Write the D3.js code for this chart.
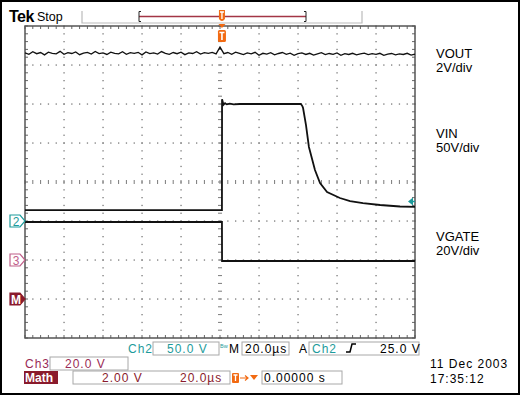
<!DOCTYPE html>
<html><head><meta charset="utf-8">
<script src="https://cdn.jsdelivr.net/npm/d3@7"></script>
<style>
body{margin:0;background:#fff}
svg{display:block}
text{font-family:"Liberation Sans",Arial,sans-serif}
</style>
</head><body>
<svg id="c" width="520" height="395"></svg>
<script>
// ---------- data ----------
const channelLabels = ["VOUT", "VIN", "VGATE"];
const channelScales = ["2V/div", "50V/div", "20V/div"];
const voltsPerDiv = [2, 50, 20];          // Ch1 (VOUT), Ch2 (VIN), Ch3 (VGATE)
const groundPos = [-3, -1, -2];           // channel ground position, divisions from center

const voutTime = d3.range(-101, 100, 2);  // µs
const voutValues = [
 12.62,12.55,12.68,12.58,12.64,12.52,12.66,12.6,12.57,12.7,
 12.55,12.63,12.59,12.67,12.53,12.61,12.65,12.56,12.69,12.58,
 12.62,12.54,12.66,12.6,12.57,12.68,12.55,12.63,12.6,12.65,
 12.52,12.67,12.58,12.62,12.56,12.69,12.6,12.55,12.64,12.58,
 12.66,12.53,12.62,12.59,12.68,12.56,12.63,12.6,12.65,12.57,
 12.92,
 12.58,12.64,12.55,12.66,12.6,12.53,12.62,12.57,12.65,12.5,
 12.6,12.56,12.63,12.52,12.59,12.64,12.55,12.61,12.5,12.58,
 12.62,12.54,12.6,12.51,12.57,12.63,12.53,12.59,12.55,12.62,
 12.5,12.58,12.54,12.6,12.52,12.57,12.61,12.53,12.58,12.55,
 12.6,12.5,12.56,12.59,12.52,12.57,12.54,12.6,12.51,12.56
];

const vinTime   = [-101, 0, 0.05, 0.8, 1.6, 2.5, 4, 6, 9, 40.5, 41.3, 41.6, 43.1, 44.6, 47.7, 50.3, 53.9, 60.5, 65.7, 72.3, 81.1, 91.3, 99];
const vinValues = [14, 14, 156, 149, 151, 149.5, 150.5, 149.6, 150, 150, 147, 144.9, 123, 94.9, 65.4, 48.7, 37.2, 29.5, 25.6, 23, 20.5, 18.6, 18];

const vgateTime   = [-101, 0, 0.05, 99];
const vgateValues = [19.5, 19.5, -0.5, -0.5];

const triggerLevel = 25;   // V on Ch2
const timeDomain = [-101, 99]; // µs, 20 µs/div

// ---------- scales ----------
const svg = d3.select("#c");
const L = 25, R = 415, T = 26, B = 338;
const x = d3.scaleLinear().domain(timeDomain).range([L, R]);
const gx = d3.scaleLinear().domain([0, 10]).range([L, R]);
const dv = d3.scaleLinear().domain([-4, 4]).range([B, T]);
const yCh = (ch) => (v) => dv(v / voltsPerDiv[ch] + groundPos[ch]);

const TEAL = "#1d9b9b", MAROON = "#9a2a55", MATH = "#8a1a2c", ORANGE = "#f26a12";

// frame
svg.append("rect").attr("x", 1).attr("y", 1).attr("width", 518).attr("height", 393)
  .attr("fill", "#fff").attr("stroke", "#000").attr("stroke-width", 2);

// ---------- graticule ----------
const g = svg.append("g");
const minorX = d3.range(0, 50.01, 1).map(i => i / 5);
const minorY = d3.range(-20, 20.01, 1).map(i => i / 5);
const DOT = "#7a7a7a";
for (let i = 1; i < 10; i++) {
  if (i === 5) continue;
  g.selectAll(null).data(minorY).join("rect")
    .attr("x", gx(i) - 0.6).attr("y", d => dv(d) - 0.6).attr("width", 1.3).attr("height", 1.3).attr("fill", DOT);
}
for (let k = -3; k <= 3; k++) {
  if (k === 0) continue;
  g.selectAll(null).data(minorX).join("rect")
    .attr("x", d => gx(d) - 0.6).attr("y", dv(k) - 0.6).attr("width", 1.3).attr("height", 1.3).attr("fill", DOT);
}
// center cross with ticks
g.selectAll(null).data(minorX).join("line")
  .attr("x1", d => gx(d)).attr("x2", d => gx(d)).attr("y1", dv(0) - 2).attr("y2", dv(0) + 2)
  .attr("stroke", DOT).attr("stroke-width", 1);
g.selectAll(null).data(minorY).join("line")
  .attr("y1", d => dv(d)).attr("y2", d => dv(d)).attr("x1", gx(5) - 2).attr("x2", gx(5) + 2)
  .attr("stroke", DOT).attr("stroke-width", 1);
// border ticks
g.selectAll(null).data(minorX).join("line")
  .attr("x1", d => gx(d)).attr("x2", d => gx(d)).attr("y1", T).attr("y2", T + 3).attr("stroke", "#666");
g.selectAll(null).data(minorX).join("line")
  .attr("x1", d => gx(d)).attr("x2", d => gx(d)).attr("y1", B).attr("y2", B - 3).attr("stroke", "#666");
g.selectAll(null).data(minorY).join("line")
  .attr("y1", d => dv(d)).attr("y2", d => dv(d)).attr("x1", L).attr("x2", L + 3).attr("stroke", "#666");
g.selectAll(null).data(minorY).join("line")
  .attr("y1", d => dv(d)).attr("y2", d => dv(d)).attr("x1", R).attr("x2", R - 3).attr("stroke", "#666");
g.append("rect").attr("x", L).attr("y", T).attr("width", R - L).attr("height", B - T)
  .attr("fill", "none").attr("stroke", "#555").attr("stroke-width", 1.5);

// ---------- traces ----------
const line = (ch) => d3.line().x(d => x(d[0])).y(d => yCh(ch)(d[1]));
svg.append("path").datum(d3.zip(voutTime, voutValues)).attr("d", line(0))
  .attr("fill", "none").attr("stroke", "#111").attr("stroke-width", 1.3);
svg.append("path").datum(d3.zip(vinTime, vinValues)).attr("d", line(1))
  .attr("fill", "none").attr("stroke", "#111").attr("stroke-width", 1.8);
svg.append("path").datum(d3.zip(vgateTime, vgateValues)).attr("d", line(2))
  .attr("fill", "none").attr("stroke", "#111").attr("stroke-width", 1.8);

// trigger level arrow (right)
const ty = yCh(1)(triggerLevel);
svg.append("path").attr("d", `M${R - 7},${ty} L${R - 2},${ty - 4} L${R - 2},${ty + 4} Z`).attr("fill", TEAL);
svg.append("line").attr("x1", R - 3).attr("x2", R).attr("y1", ty).attr("y2", ty).attr("stroke", TEAL).attr("stroke-width", 1.5);

// ---------- channel markers (left) ----------
function marker(ch, label, color, filled) {
  const y = dv(groundPos[ch]);
  svg.append("path").attr("d", `M10,${y - 6} L20,${y - 6} L25,${y} L20,${y + 6} L10,${y + 6} Z`)
    .attr("fill", filled ? color : "#fff").attr("stroke", color).attr("stroke-width", 1.2);
  svg.append("text").attr("x", 16).attr("y", y + 4.5).attr("text-anchor", "middle")
    .attr("font-size", 12).attr("font-weight", filled ? "bold" : "normal")
    .attr("fill", filled ? "#fff" : color).text(label);
}
marker(1, "2", TEAL, false);
marker(2, "3", "#c0608a", false);
marker(0, "M", MATH, true);

// ---------- top bar ----------
svg.append("text").attr("x", 9).attr("y", 22).attr("font-family", "Liberation Serif").attr("font-weight", "bold")
  .attr("font-size", 16).attr("letter-spacing", -0.5).text("Tek");
svg.append("text").attr("x", 37).attr("y", 21).attr("font-size", 12.5).text("Stop");
svg.append("path").attr("d", "M82,11 L82,23 L362,23 L362,11").attr("fill", "none").attr("stroke", "#bbb").attr("stroke-width", 1.2);
svg.append("line").attr("x1", 139).attr("x2", 306).attr("y1", 16.5).attr("y2", 16.5).attr("stroke", "#a33545").attr("stroke-width", 1.3);
svg.append("path").attr("d", "M141,11.5 L139,11.5 L139,21.5 L141,21.5").attr("fill", "none").attr("stroke", "#222");
svg.append("path").attr("d", "M304,11.5 L306,11.5 L306,21.5 L304,21.5").attr("fill", "none").attr("stroke", "#222");
const tx = x(0);
svg.append("path").attr("d", `M${tx - 3},10 L${tx + 3},10 L${tx + 3},19 Q${tx},23 ${tx - 3},19 Z`).attr("fill", ORANGE);
svg.append("path").attr("d", `M${tx - 2},12 L${tx + 2},12 M${tx},12 L${tx},19`).attr("stroke", "#fff").attr("stroke-width", 1.3);
svg.append("path").attr("d", `M${tx - 3.5},24 L${tx + 3.5},24 L${tx},28 Z`).attr("fill", ORANGE);
svg.append("rect").attr("x", tx - 4).attr("y", 30).attr("width", 8).attr("height", 12).attr("rx", 1.5).attr("fill", ORANGE);
svg.append("path").attr("d", `M${tx - 2.5},32.5 L${tx + 2.5},32.5 M${tx},32.5 L${tx},40`).attr("stroke", "#fff").attr("stroke-width", 1.6);

// ---------- right labels ----------
const labelY = [[58, 72], [138, 152], [241, 255]];
channelLabels.forEach((lab, i) => {
  svg.append("text").attr("x", 436).attr("y", labelY[i][0]).attr("font-size", 13).text(lab);
  svg.append("text").attr("x", 436).attr("y", labelY[i][1]).attr("font-size", 13).text(channelScales[i]);
});

// ---------- bottom readouts ----------
function box(x0, y0, w, h) {
  svg.append("rect").attr("x", x0).attr("y", y0).attr("width", w).attr("height", h)
    .attr("fill", "#fff").attr("stroke", "#a8a8a8").attr("stroke-width", 1);
}
function txt(x0, y0, s, color, anchor) {
  svg.append("text").attr("x", x0).attr("y", y0).attr("font-size", 12).attr("letter-spacing", 1)
    .attr("fill", color).attr("text-anchor", anchor || "start").text(s);
}
// row 1
box(153, 342, 66, 13); box(242, 342, 47, 13); box(309, 342, 110, 13);
txt(128, 353, "Ch2", TEAL);
txt(167, 353, "50.0 V", TEAL);
svg.append("text").attr("x", 220).attr("y", 348).attr("font-size", 5.5).attr("fill", TEAL).text("Bw");
txt(229, 353, "M", "#000");
txt(245, 353, "20.0µs", "#000");
txt(299, 353, "A", "#000");
txt(312, 353, "Ch2", TEAL);
svg.append("path").attr("d", "M346,352 L350,352 L352,344 L356,344").attr("fill", "none").attr("stroke", "#000").attr("stroke-width", 1.5);
txt(380, 353, "25.0 V", "#000");
// row 2
box(50, 357, 78, 13);
txt(25, 368, "Ch3", MAROON);
txt(65, 368, "20.0 V", MAROON);
// row 3
svg.append("rect").attr("x", 24).attr("y", 371).attr("width", 34).attr("height", 13).attr("fill", MATH);
svg.append("text").attr("x", 25).attr("y", 382).attr("font-size", 12).attr("font-weight", "bold").attr("fill", "#fff").text("Math");
box(73, 371, 157, 13);
txt(102, 382, "2.00 V", MATH);
txt(180, 382, "20.0µs", MATH);
svg.append("rect").attr("x", 232).attr("y", 373).attr("width", 7).attr("height", 10).attr("rx", 1).attr("fill", ORANGE);
svg.append("path").attr("d", "M233.5,375 L237.5,375 M235.5,375 L235.5,381").attr("stroke", "#fff").attr("stroke-width", 1.3);
svg.append("path").attr("d", "M240,378 L248,378 M245,375.5 L248,378 L245,380.5").attr("fill", "none").attr("stroke", ORANGE).attr("stroke-width", 1.2);
svg.append("path").attr("d", "M250,375 L258,375 L254,380 Z").attr("fill", ORANGE);
box(262, 371, 80, 13);
txt(264, 382, "0.00000 s", "#000");
// date
txt(430, 368, "11 Dec 2003", "#000");
txt(430, 383, "17:35:12", "#000");
</script>
</body></html>
